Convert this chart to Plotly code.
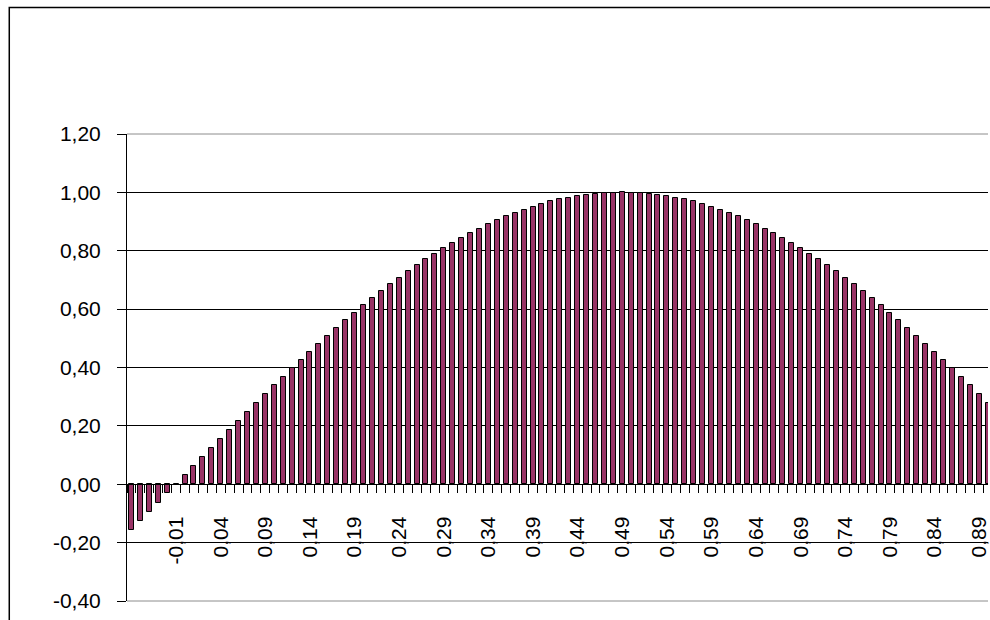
import plotly.graph_objects as go

# Category labels (one per bar) and the bar heights
x_labels = [
    "-0,06", "-0,05", "-0,04", "-0,03", "-0,02", "-0,01",
    "0,00", "0,01", "0,02", "0,03", "0,04", "0,05", "0,06", "0,07", "0,08", "0,09",
    "0,10", "0,11", "0,12", "0,13", "0,14", "0,15", "0,16", "0,17", "0,18", "0,19",
    "0,20", "0,21", "0,22", "0,23", "0,24", "0,25", "0,26", "0,27", "0,28", "0,29",
    "0,30", "0,31", "0,32", "0,33", "0,34", "0,35", "0,36", "0,37", "0,38", "0,39",
    "0,40", "0,41", "0,42", "0,43", "0,44", "0,45", "0,46", "0,47", "0,48", "0,49",
    "0,50", "0,51", "0,52", "0,53", "0,54", "0,55", "0,56", "0,57", "0,58", "0,59",
    "0,60", "0,61", "0,62", "0,63", "0,64", "0,65", "0,66", "0,67", "0,68", "0,69",
    "0,70", "0,71", "0,72", "0,73", "0,74", "0,75", "0,76", "0,77", "0,78", "0,79",
    "0,80", "0,81", "0,82", "0,83", "0,84", "0,85", "0,86", "0,87", "0,88", "0,89",
    "0,90", "0,91",
]

values = [
    -0.156, -0.125, -0.094, -0.063, -0.031, 0.000,
    0.031, 0.063, 0.094, 0.125, 0.156, 0.187, 0.218, 0.249, 0.279, 0.309,
    0.339, 0.368, 0.397, 0.426, 0.454, 0.482, 0.509, 0.536, 0.562, 0.588,
    0.613, 0.637, 0.661, 0.685, 0.707, 0.729, 0.750, 0.771, 0.790, 0.809,
    0.827, 0.844, 0.861, 0.876, 0.891, 0.905, 0.918, 0.930, 0.941, 0.951,
    0.960, 0.969, 0.976, 0.982, 0.988, 0.992, 0.996, 0.998, 0.999, 1.000,
    0.999, 0.998, 0.996, 0.992, 0.988, 0.982, 0.976, 0.969, 0.960, 0.951,
    0.941, 0.930, 0.918, 0.905, 0.891, 0.876, 0.861, 0.844, 0.827, 0.809,
    0.790, 0.771, 0.750, 0.729, 0.707, 0.685, 0.661, 0.637, 0.613, 0.588,
    0.562, 0.536, 0.509, 0.482, 0.454, 0.426, 0.397, 0.368, 0.339, 0.309,
    0.279, 0.249,
]

y_ticks = [-0.4, -0.2, 0.0, 0.2, 0.4, 0.6, 0.8, 1.0, 1.2]
y_tick_labels = ["-0,40", "-0,20", "0,00", "0,20", "0,40", "0,60", "0,80", "1,00", "1,20"]

positions = list(range(len(values)))
label_step = 5
label_positions = positions[5::label_step]
label_texts = x_labels[5::label_step]

W, H = 990, 620
ML, MR, MT, MB = 127, 0, 134, 19
plot_w = W - ML - MR
plot_h = H - MT - MB

FONT = dict(family="Liberation Sans, Arial, sans-serif", size=21, color="#000000")
BAR_COLOR = "#993366"

fig = go.Figure(
    go.Bar(
        x=positions,
        y=values,
        width=0.56,
        marker=dict(color=BAR_COLOR, line=dict(color="#000000", width=1)),
        hoverinfo="skip",
    )
)

y_min, y_max = y_ticks[0], y_ticks[-1]
zero_frac = (0 - y_min) / (y_max - y_min)

fig.update_layout(
    width=W,
    height=H,
    margin=dict(l=ML, r=MR, t=MT, b=MB, pad=0),
    paper_bgcolor="#ffffff",
    plot_bgcolor="#ffffff",
    font=FONT,
    showlegend=False,
    bargap=0,
    xaxis=dict(
        range=[-0.5, -0.5 + plot_w / 8.944],
        anchor="free",
        position=zero_frac,
        showline=True,
        linecolor="#000000",
        linewidth=1,
        showgrid=False,
        zeroline=False,
        tickmode="array",
        tickvals=label_positions,
        ticktext=label_texts,
        tickangle=-90,
        ticks="",
        ticklabelstandoff=23,
        ticklabeloverflow="allow",
        minor=dict(
            ticks="outside",
            tick0=0.5,
            dtick=1,
            ticklen=8,
            tickwidth=1,
            tickcolor="#000000",
            showgrid=False,
        ),
        fixedrange=True,
    ),
    yaxis=dict(
        range=[y_min, y_max],
        tickmode="array",
        tickvals=y_ticks,
        ticktext=y_tick_labels,
        showline=True,
        linecolor="#000000",
        linewidth=1,
        ticks="outside",
        ticklen=9,
        tickwidth=1,
        tickcolor="#000000",
        ticklabelstandoff=12,
        showgrid=True,
        gridcolor="#000000",
        gridwidth=1,
        zeroline=False,
        fixedrange=True,
    ),
)

# Plot-area border lines (top and bottom) in grey
for yv in (0, 1):
    fig.add_shape(
        type="line", xref="paper", yref="paper",
        x0=0, x1=1, y0=yv, y1=yv,
        line=dict(color="#8c8c8c", width=1), layer="above",
    )

# Chart-area frame (left and top edges)
frame_left = (9 - ML) / plot_w
frame_top = (H - MB - 7.5) / plot_h
fig.add_shape(
    type="path", xref="paper", yref="paper",
    path=f"M {frame_left},-0.2 L {frame_left},{frame_top} L 1.2,{frame_top}",
    line=dict(color="#000000", width=1.5), layer="above",
)

fig.write_html("out.html")
